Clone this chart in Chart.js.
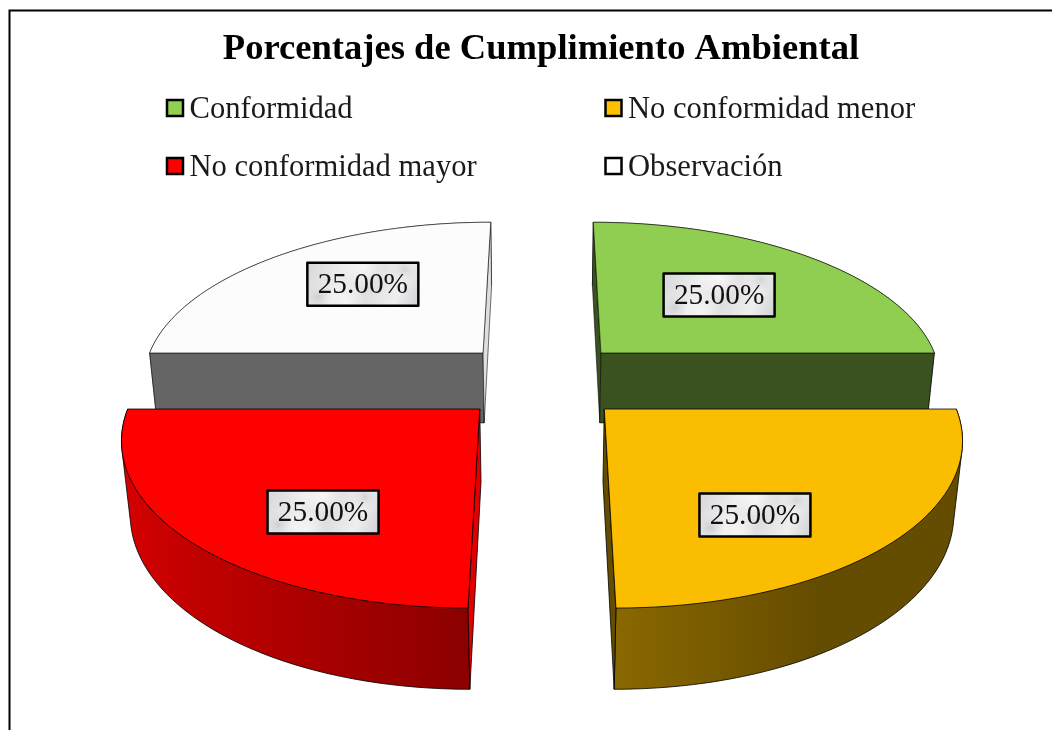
<!DOCTYPE html>
<html>
<head>
<meta charset="utf-8">
<title>Porcentajes de Cumplimiento Ambiental</title>
<script src="https://cdn.jsdelivr.net/npm/chart.js@4"></script>
<style>
  html, body { margin: 0; padding: 0; background: #fff; overflow: hidden; }
  #box { position: relative; width: 1052px; height: 730px; }
</style>
</head>
<body>
<div id="box"><canvas id="pie" width="1052" height="730"></canvas></div>
<script>
// data
var categories = ['Conformidad', 'No conformidad menor', 'No conformidad mayor', 'Observación'];
var percentages = [25, 25, 25, 25];
var sliceColors = ['#8FCE50', '#FBBD00', '#FF0000', '#FCFCFC'];
var legendColors = ['#92D050', '#FFC000', '#FF0000', '#FFFFFF'];
var chartTitle = 'Porcentajes de Cumplimiento Ambiental';

// camera for the tilted pie, unit radius = one pie radius
var view = {
  vanishX: 542, vanishY: -650,      // where the depth lines meet
  dropX: 542, dropY: 4000,          // where the vertical lines meet
  u0: 0.00097067, uPerRadius: 0.00014939,
  radiusPx: 342.5,
  explode: 0.25,
  thickness: 0.0000195
};
// label box centre relative to slice apex, in pie radii
var labelPlacement = [[0.387, -0.41], [0.373, 0.575], [-0.39, 0.56], [-0.4, -0.49]];
var legendSlots = [[166, 108], [604.5, 108], [166, 166], [604.5, 166]];

function project(X, Y, deep) {
  var u = view.u0 - Y * view.uPerRadius;
  var x = view.vanishX + X * view.radiusPx * (view.u0 / u);
  var y = view.vanishY + 1 / u;
  if (deep) {
    var t = view.thickness / (u + view.thickness);
    x += t * (view.dropX - x);
    y += t * (view.dropY - y);
  }
  return { x: x, y: y };
}

function shade(hex, k) {
  var n = parseInt(hex.slice(1), 16);
  return 'rgb(' + Math.round((n >> 16) * k) + ',' + Math.round(((n >> 8) & 255) * k) + ',' + Math.round((n & 255) * k) + ')';
}

// outer wall gets darker from left to right
function wallShade(nx) {
  if (nx <= 0) return 0.55 - 0.3 * nx;
  return Math.max(0.4, 0.55 - 0.3 * nx);
}

// wall outline, so the silhouette between lid rim and bottom rim is filled too
function hull(points) {
  var pts = points.slice().sort(function (a, b) { return a.x - b.x || a.y - b.y; });
  function half(list) {
    var out = [];
    list.forEach(function (p) {
      while (out.length > 1) {
        var a = out[out.length - 2], b = out[out.length - 1];
        if ((b.x - a.x) * (p.y - a.y) - (b.y - a.y) * (p.x - a.x) <= 0) out.pop();
        else break;
      }
      out.push(p);
    });
    out.pop();
    return out;
  }
  return half(pts).concat(half(pts.slice().reverse()));
}

function fillPoly(ctx, pts, fill, edge) {
  ctx.beginPath();
  pts.forEach(function (p, i) { i ? ctx.lineTo(p.x, p.y) : ctx.moveTo(p.x, p.y); });
  ctx.closePath();
  ctx.fillStyle = fill;
  ctx.fill();
  ctx.lineWidth = 1;
  ctx.strokeStyle = edge;
  ctx.stroke();
}

function drawSlice(ctx, arc, color) {
  var s = arc.startAngle, e = arc.endAngle, mid = (s + e) / 2;
  var ax = view.explode * Math.cos(mid), ay = view.explode * Math.sin(mid);
  var top = [], low = [], shades = [];
  for (var i = 0; i <= 48; i++) {
    var th = s + (e - s) * i / 48;
    top.push(project(ax + Math.cos(th), ay + Math.sin(th), false));
    low.push(project(ax + Math.cos(th), ay + Math.sin(th), true));
    shades.push(wallShade(Math.cos(th)));
  }
  var apexTop = project(ax, ay, false), apexLow = project(ax, ay, true);
  // back slices have softer outlines in the original
  var edge = Math.sin(mid) < 0 ? 'rgba(0,0,0,0.55)' : 'rgba(0,0,0,0.8)';

  // rim wall
  var x0 = top[0].x, x1 = top[48].x;
  var grad = ctx.createLinearGradient(x0, 0, x1, 0);
  top.forEach(function (p, i) {
    if (i % 4) return;
    grad.addColorStop(Math.min(1, Math.max(0, (p.x - x0) / (x1 - x0))), shade(color, shades[i]));
  });
  fillPoly(ctx, hull(top.concat(low)), grad, edge);

  // the two cut faces, the one turned away from us stays out
  [[s, top[0], low[0], -1], [e, top[48], low[48], 1]].forEach(function (f) {
    var normal = f[0] + f[3] * Math.PI / 2;
    if (Math.sin(normal) < -0.5) return;
    fillPoly(ctx, [apexTop, f[1], f[2], apexLow], shade(color, Math.cos(normal) > 0.5 ? 0.88 : 0.4), edge);
  });

  // lid
  fillPoly(ctx, [apexTop].concat(top), color, edge);
}

function drawLabel(ctx, text, cx, cy) {
  var w = 111, h = 43, l = cx - w / 2, t = cy - h / 2;
  var g = ctx.createLinearGradient(l, t, l + w, t + h);
  g.addColorStop(0, '#d6d7d9');
  g.addColorStop(0.3, '#eeeeef');
  g.addColorStop(0.55, '#dedee0');
  g.addColorStop(0.8, '#efeff0');
  g.addColorStop(1, '#cfd0d2');
  ctx.fillStyle = g;
  ctx.fillRect(l, t, w, h);
  // marble blotches
  ctx.save();
  ctx.beginPath();
  ctx.rect(l, t, w, h);
  ctx.clip();
  [[0.1, 0.8, 18, 'rgba(170,172,176,0.4)'], [0.88, 0.15, 18, 'rgba(170,172,176,0.4)'],
   [0.5, 0.1, 22, 'rgba(255,255,255,0.7)'], [0.35, 0.9, 20, 'rgba(255,255,255,0.6)']].forEach(function (b) {
    var bx = l + w * b[0], by = t + h * b[1];
    var rg = ctx.createRadialGradient(bx, by, 0, bx, by, b[2]);
    rg.addColorStop(0, b[3]);
    rg.addColorStop(1, 'rgba(255,255,255,0)');
    ctx.fillStyle = rg;
    ctx.fillRect(l, t, w, h);
  });
  ctx.restore();
  ctx.lineWidth = 2.5;
  ctx.strokeStyle = '#000';
  ctx.strokeRect(l, t, w, h);
  ctx.fillStyle = '#111';
  ctx.font = '29.33px "Liberation Serif"';
  ctx.textAlign = 'center';
  ctx.textBaseline = 'middle';
  ctx.fillText(text, cx, cy + 1);
}

var tiltedPie = {
  id: 'tiltedPie',
  beforeDraw: function (chart) {
    var ctx = chart.ctx;
    ctx.save();
    ctx.strokeStyle = '#000';
    ctx.lineWidth = 2;
    ctx.beginPath();
    ctx.moveTo(9.5, 730);
    ctx.lineTo(9.5, 10.5);
    ctx.lineTo(1052, 10.5);
    ctx.stroke();
    ctx.restore();
  },
  beforeDatasetDraw: function (chart, args) {
    var ctx = chart.ctx, arcs = args.meta.data, ds = chart.data.datasets[0];
    var order = arcs.map(function (a, i) { return i; }).sort(function (a, b) {
      return Math.sin((arcs[a].startAngle + arcs[a].endAngle) / 2) - Math.sin((arcs[b].startAngle + arcs[b].endAngle) / 2);
    });
    ctx.save();
    ctx.lineJoin = 'round';
    order.forEach(function (i) { drawSlice(ctx, arcs[i], ds.backgroundColor[i]); });
    var total = ds.data.reduce(function (a, b) { return a + b; }, 0);
    arcs.forEach(function (arc, i) {
      var mid = (arc.startAngle + arc.endAngle) / 2;
      var p = project(view.explode * Math.cos(mid) + labelPlacement[i][0], view.explode * Math.sin(mid) + labelPlacement[i][1], false);
      drawLabel(ctx, (ds.data[i] / total * 100).toFixed(2) + '%', p.x, p.y);
    });
    ctx.restore();
    return false;
  },
  afterDraw: function (chart) {
    var ctx = chart.ctx;
    ctx.save();
    chart.data.labels.forEach(function (text, i) {
      var x = legendSlots[i][0], y = legendSlots[i][1];
      ctx.fillStyle = legendColors[i];
      ctx.fillRect(x + 1, y - 8, 16, 16);
      ctx.lineWidth = 2.5;
      ctx.strokeStyle = '#000';
      ctx.strokeRect(x + 1, y - 8, 16, 16);
      ctx.fillStyle = '#1a1a1a';
      ctx.font = '30.6px "Liberation Serif"';
      ctx.textAlign = 'left';
      ctx.textBaseline = 'middle';
      ctx.fillText(text, x + 23.5, y + 2);
    });
    ctx.restore();
  }
};

new Chart(document.getElementById('pie'), {
  type: 'pie',
  data: {
    labels: categories,
    datasets: [{ data: percentages, backgroundColor: sliceColors }]
  },
  options: {
    responsive: false,
    animation: false,
    layout: { padding: { left: 30 } },
    plugins: {
      legend: { display: false },
      tooltip: { enabled: false },
      title: {
        display: true,
        text: chartTitle,
        color: '#000',
        font: { family: '"Liberation Serif"', size: 36.6, weight: 'bold' },
        padding: { top: 28, bottom: 10 }
      }
    }
  },
  plugins: [tiltedPie]
});
</script>
</body>
</html>
